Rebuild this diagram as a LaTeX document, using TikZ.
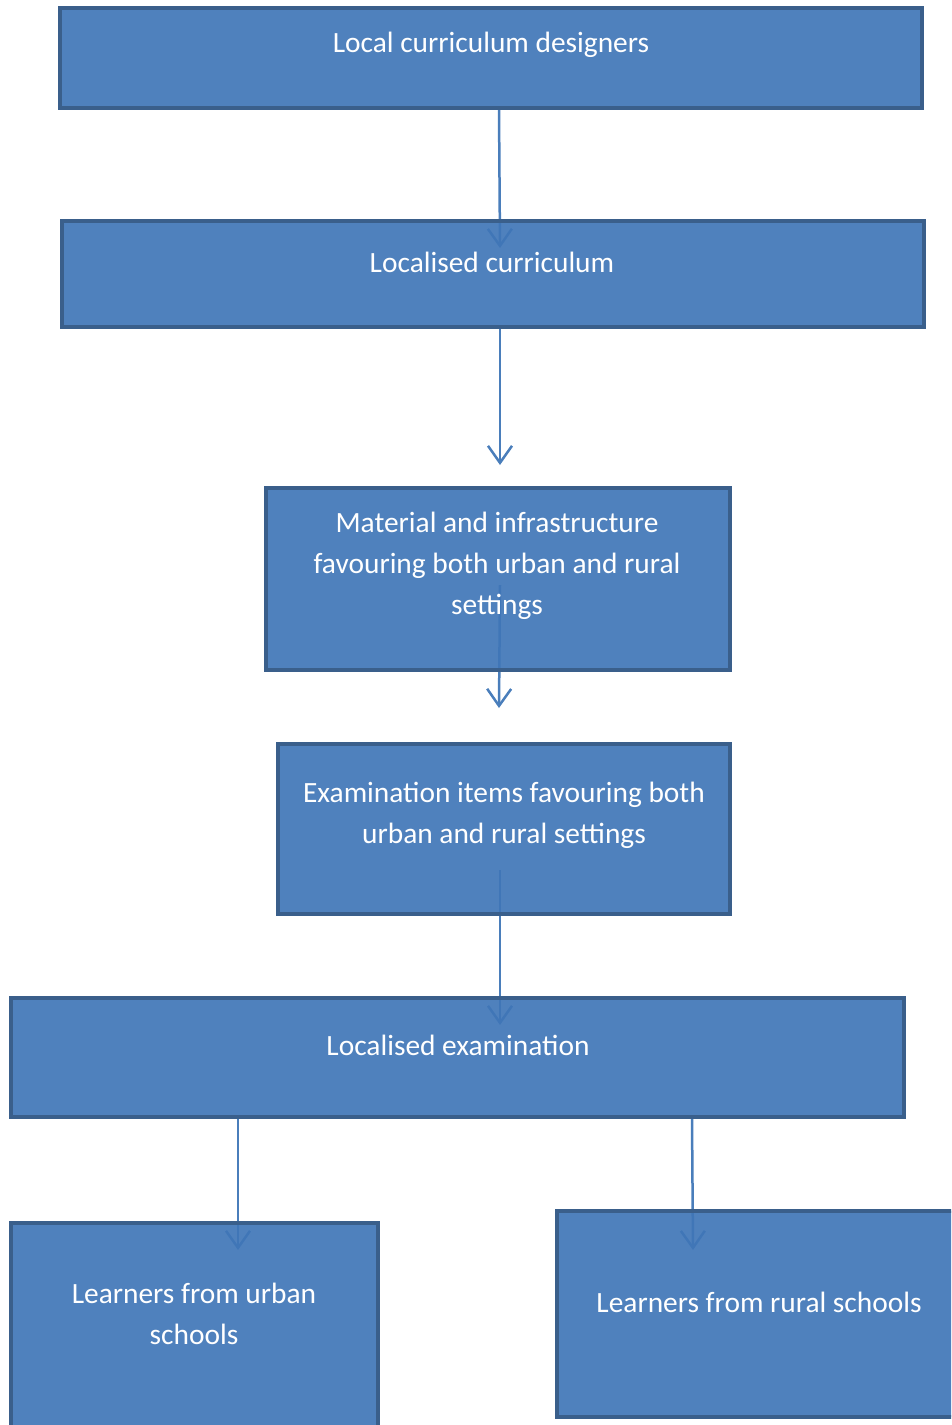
\documentclass[tikz,border=0pt]{standalone}
\usepackage{fontspec}
\setmainfont{Carlito}
\usetikzlibrary{arrows.meta}
\definecolor{boxfill}{HTML}{4076B7}
\definecolor{boxline}{HTML}{3A5F8B}
\definecolor{arrowc}{HTML}{4A7EBB}
\begin{document}
\begin{tikzpicture}[x=1pt,y=-1pt,
  box/.style={draw=boxline,fill=boxfill,line width=4pt,fill opacity=0.92,inner sep=0pt},
  txt/.style={text=white,font=\fontsize{29.4}{41}\selectfont,align=center,inner sep=0pt},
  arr/.style={draw=arrowc,line width=2.5pt,-{Straight Barb[length=17pt,width=24pt,line width=2.5pt]}}]
\useasboundingbox (0,0) rectangle (951,1425);
\clip (0,0) rectangle (951,1425);
% anchor points for arrows
\coordinate (s1) at (499,108);
\coordinate (e1) at (500,248);
\coordinate (s2) at (500,328);
\coordinate (e2) at (500,465);
\coordinate (s3) at (500,585);
\coordinate (e3) at (499,708);
\coordinate (s4) at (500,870);
\coordinate (e4) at (500,1025);
\coordinate (s5) at (238,1118);
\coordinate (e5) at (238,1250);
\coordinate (s6) at (692,1118);
\coordinate (e6) at (693,1250);
% connectors (under the boxes)
\draw[arr] (s1) -- (e1);
\draw[arr] (s2) -- (e2);
\draw[arr] (s3) -- (e3);
\draw[arr] (s4) -- (e4);
\draw[arr] (s5) -- (e5);
\draw[arr] (s6) -- (e6);
% boxes
\node[box,minimum width=862pt,minimum height=100pt] (b1) at (491,58) {};
\node[box,minimum width=862pt,minimum height=106pt] (b2) at (493,274) {};
\node[box,minimum width=464pt,minimum height=182pt] (b3) at (498,579) {};
\node[box,minimum width=452pt,minimum height=170pt] (b4) at (504,829) {};
\node[box,minimum width=893pt,minimum height=119pt] (b5) at (457.5,1057.5) {};
\node[box,minimum width=367pt,minimum height=230pt] (b6) at (194.5,1338) {};
\node[box,minimum width=420pt,minimum height=206pt] (b7) at (767,1314) {};
% texts
\node[txt] (t1) at (491,45) {Local curriculum designers};
\node[txt] (t2) at (492,262) {Localised curriculum};
\node[txt] (t3) at (497,566) {Material and infrastructure\\favouring both urban and rural\\settings};
\node[txt] (t4) at (504,815.5) {Examination items favouring both\\urban and rural settings};
\node[txt] (t5) at (458,1045) {Localised examination};
\node[txt] (t6) at (194,1314) {Learners from urban\\schools};
\node[txt] (t7) at (759,1302) {Learners from rural schools};
\end{tikzpicture}
\end{document}
